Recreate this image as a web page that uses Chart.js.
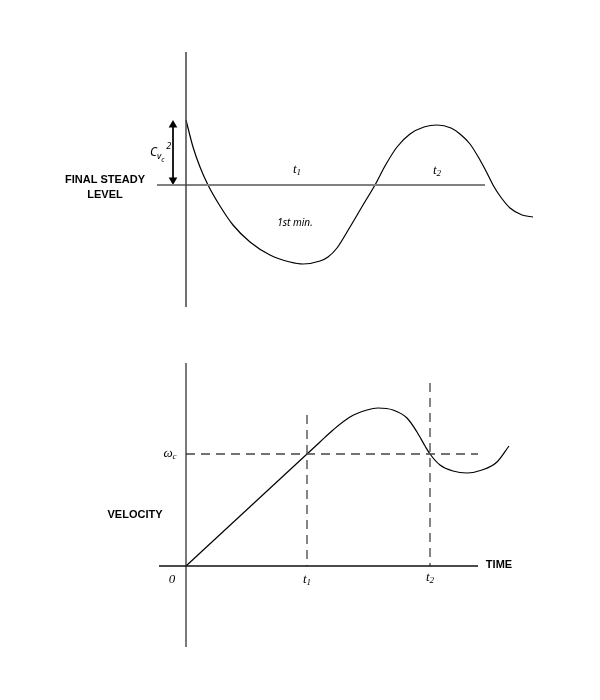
<!DOCTYPE html>
<html>
<head>
<meta charset="utf-8">
<script src="https://cdn.jsdelivr.net/npm/chart.js@4"></script>
<style>
  body { margin: 0; background: #fff; }
  .panel { position: absolute; left: 0; width: 600px; height: 350px; }
</style>
</head>
<body>
<div class="panel" style="top:0"><canvas id="topChart" width="600" height="350"></canvas></div>
<div class="panel" style="top:350px"><canvas id="bottomChart" width="600" height="350"></canvas></div>
<script>
// Top diagram: response around the final steady level
const topCurveX = [0, 0.7, 1.4, 2.2, 3.4, 4.7, 6.4, 8.4, 10.4, 11.7, 13.4, 14.2, 15.1, 16.4, 17.7, 18.9, 19.9, 21.1, 22.4, 23.8, 25.1, 26.5, 27.4, 28.4, 29.4, 30.1, 30.7, 31.4, 32.4, 33.6, 34.7];
const topCurveY = [6.5, 3.8, 1.8, 0, -2.1, -4.0, -5.7, -7.0, -7.7, -7.9, -7.6, -7.2, -6.3, -4.2, -2.0, 0, 1.9, 3.8, 5.1, 5.8, 6.0, 5.7, 5.1, 4.1, 2.5, 1.2, 0, -1.1, -2.3, -3.0, -3.2];
const topLevelX = [-2.9, 29.9];
const topAxisY = [13.3, -12.2];
const overshootArrowY = [6.0, 0.5];
const topT1 = 11.1;
const topT2 = 25.1;

// Bottom diagram: velocity against time
const rampX = [0, 12.1];
const rampY = [0, 11.2];
const velCurveX = [12.1, 13.4, 14.7, 16.4, 18.1, 19.2, 20.7, 22.1, 23.1, 23.9, 24.4, 25.4, 26.7, 28.1, 29.6, 31.1, 32.3];
const velCurveY = [11.2, 12.4, 13.6, 14.9, 15.6, 15.8, 15.6, 14.8, 13.4, 12.0, 11.2, 10.1, 9.5, 9.3, 9.6, 10.4, 12.0];
const omegaC = 11.2;
const t1 = 12.1;
const t2 = 24.4;
const timeAxisX = [-2.7, 29.2];
const velAxisY = [20.3, -8.1];
const t1LineTop = 15.1;
const t2LineTop = 18.3;

const boldFont = 'bold 11px "Liberation Sans", Arial, sans-serif';
const mathFont = 'italic 13px "Liberation Serif", serif';
const dashColor = '#444';

function pts(xs, ys) {
  return xs.map((x, i) => ({ x: x, y: ys[i] }));
}

function lineSet(data, color, width, extra) {
  return Object.assign({
    data: data,
    borderColor: color,
    borderWidth: width,
    pointRadius: 0,
    fill: false,
    tension: 0
  }, extra || {});
}

// draws text at data coordinates, with optional subscript / superscript
const textLabels = {
  id: 'textLabels',
  afterDatasetsDraw(chart, args, opts) {
    const ctx = chart.ctx;
    const xs = chart.scales.x, ys = chart.scales.y;
    ctx.save();
    ctx.fillStyle = '#000';
    (opts.items || []).forEach(item => {
      let px = xs.getPixelForValue(item.x);
      const py = ys.getPixelForValue(item.y);
      const subFont = item.font.replace(/\d+px/, '9px');
      ctx.font = item.font;
      ctx.textBaseline = 'middle';
      const w = ctx.measureText(item.text).width;
      let subW = 0;
      if (item.sub) {
        ctx.font = subFont;
        subW = ctx.measureText(item.sub).width;
      }
      ctx.font = item.font;
      if (item.align !== 'left') px -= (w + subW) / 2;
      ctx.textAlign = 'left';
      ctx.fillText(item.text, px, py);
      if (item.sub) {
        ctx.font = subFont;
        ctx.fillText(item.sub, px + w, py + 3);
        if (item.sub2) {
          const sw = ctx.measureText(item.sub).width;
          ctx.font = item.font.replace(/\d+px/, '7px');
          ctx.fillText(item.sub2, px + w + sw, py + 7);
        }
      }
      if (item.sup) {
        ctx.font = item.font.replace(/\d+px/, '9px');
        ctx.fillText(item.sup, px + w + subW + 5, py - 7);
      }
    });
    ctx.restore();
  }
};

function baseOptions(yMin, yMax, padTop, padBottom, items) {
  return {
    responsive: false,
    animation: false,
    devicePixelRatio: 1,
    layout: { padding: { left: 156, right: 64, top: padTop, bottom: padBottom } },
    scales: {
      x: { type: 'linear', min: -3, max: 35, display: false },
      y: { type: 'linear', min: yMin, max: yMax, display: false }
    },
    plugins: {
      legend: { display: false },
      tooltip: { enabled: false },
      textLabels: { items: items }
    }
  };
}

new Chart(document.getElementById('topChart'), {
  type: 'line',
  data: {
    datasets: [
      lineSet(pts([0, 0], topAxisY), '#444', 1.5),
      lineSet(pts(topLevelX, [0, 0]), '#808080', 2),
      lineSet(pts([-1.3, -1.3], overshootArrowY), '#000', 1, {
        pointRadius: 5, pointStyle: 'triangle', pointRotation: [0, 180],
        pointBackgroundColor: '#000', pointBorderColor: '#000', pointBorderWidth: 0
      }),
      lineSet(pts(topCurveX, topCurveY), '#000', 1.2, { cubicInterpolationMode: 'monotone' })
    ]
  },
  options: baseOptions(-13, 14, 45, 35, [
    { text: 'FINAL STEADY', x: -8.1, y: 0.5, font: boldFont },
    { text: 'LEVEL', x: -8.1, y: -1.0, font: boldFont },
    { text: 'C', x: -3.6, y: 3.2, font: 'italic 12px "Noto Sans", sans-serif', align: 'left', sub: 'v', sub2: 'c', sup: '2' },
    { text: 't', x: topT1, y: 1.5, font: mathFont, sub: '1' },
    { text: 't', x: topT2, y: 1.4, font: mathFont, sub: '2' },
    { text: '1st min.', x: 10.9, y: -3.8, font: 'italic 10px "Noto Sans", sans-serif' }
  ]),
  plugins: [textLabels]
});

new Chart(document.getElementById('bottomChart'), {
  type: 'line',
  data: {
    datasets: [
      lineSet(pts([0, 0], velAxisY), '#222', 1.2),
      lineSet(pts(timeAxisX, [0, 0]), '#111', 1.5),
      lineSet(pts([0, timeAxisX[1]], [omegaC, omegaC]), dashColor, 1.3, { borderDash: [9, 6] }),
      lineSet(pts([t1, t1], [t1LineTop, 0]), dashColor, 1.3, { borderDash: [9, 6] }),
      lineSet(pts([t2, t2], [t2LineTop, 0]), dashColor, 1.3, { borderDash: [9, 6] }),
      lineSet(pts(rampX, rampY), '#000', 1.2),
      lineSet(pts(velCurveX, velCurveY), '#000', 1.2, { cubicInterpolationMode: 'monotone' })
    ]
  },
  options: baseOptions(-9, 21, 6, 44, [
    { text: 'ω', x: -1.6, y: omegaC, font: mathFont, sub: 'c' },
    { text: 'VELOCITY', x: -5.1, y: 5.1, font: boldFont },
    { text: '0', x: -1.4, y: -1.4, font: mathFont },
    { text: 't', x: t1, y: -1.4, font: mathFont, sub: '1' },
    { text: 't', x: t2, y: -1.2, font: mathFont, sub: '2' },
    { text: 'TIME', x: 31.3, y: 0.1, font: boldFont }
  ]),
  plugins: [textLabels]
});
</script>
</body>
</html>
